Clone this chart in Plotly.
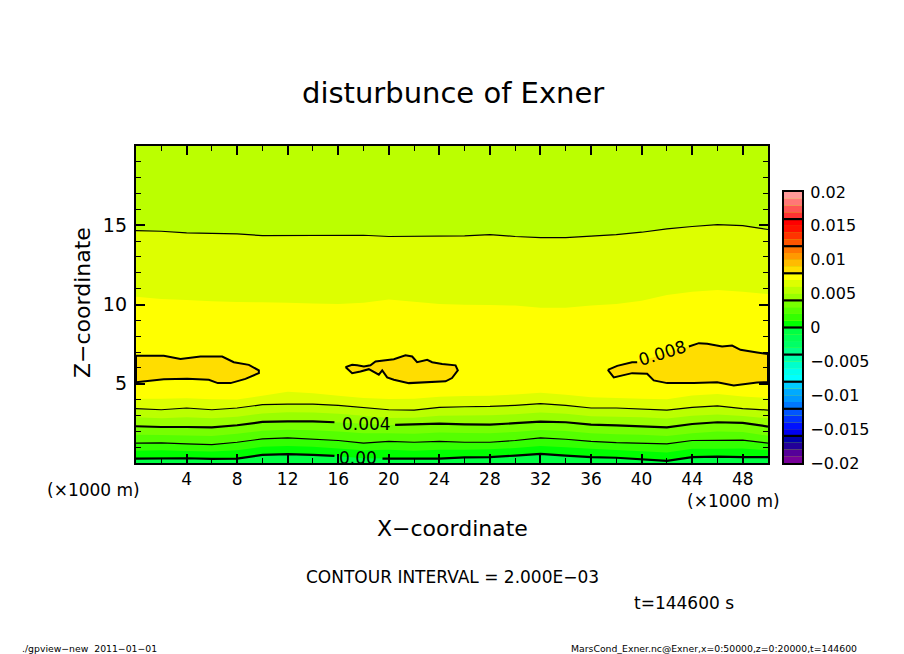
import plotly.graph_objects as go

# ---- data (x in 1000 m, z in 1000 m) ----
x_km = [0, 2, 4, 6, 8, 10, 12, 14, 16, 18, 20, 22, 24, 26, 28, 30, 32, 34, 36, 38, 40, 42, 44, 46, 48, 50]

z_006_upper = [14.66, 14.62, 14.52, 14.48, 14.45, 14.35, 14.35, 14.35, 14.39, 14.37, 14.29, 14.29, 14.33,
               14.33, 14.41, 14.29, 14.22, 14.22, 14.31, 14.41, 14.56, 14.77, 14.92, 15.04, 14.98, 14.73]
z_007_upper = [10.49, 10.35, 10.28, 10.20, 10.16, 10.14, 10.11, 10.07, 10.03, 10.11, 10.32, 10.18, 10.03,
               9.99, 9.97, 9.93, 9.80, 9.80, 9.93, 10.03, 10.24, 10.60, 10.81, 10.91, 10.81, 10.66]
z_007_lower = [4.05, 4.05, 4.08, 4.02, 4.00, 4.25, 4.50, 4.40, 4.24, 4.10, 4.03, 4.05, 4.18, 4.22, 4.25,
               4.32, 4.43, 4.30, 4.15, 4.10, 4.06, 4.02, 4.26, 4.35, 4.20, 4.10]
z_006_lower = [3.43, 3.36, 3.47, 3.36, 3.47, 3.68, 3.72, 3.72, 3.64, 3.51, 3.36, 3.34, 3.51, 3.55, 3.57,
               3.64, 3.74, 3.64, 3.47, 3.47, 3.41, 3.34, 3.51, 3.60, 3.43, 3.34]
z_005 = [2.88, 2.82, 2.88, 2.82, 2.92, 3.12, 3.20, 3.18, 3.10, 2.98, 2.84, 2.85, 2.98, 3.00, 3.02,
         3.08, 3.18, 3.10, 2.95, 2.92, 2.88, 2.80, 2.98, 3.06, 2.96, 2.82]
z_004_fill = [2.32, 2.27, 2.27, 2.25, 2.38, 2.59, 2.63, 2.63, 2.55, 2.48, 2.40, 2.42, 2.48, 2.44, 2.42,
              2.51, 2.61, 2.57, 2.42, 2.38, 2.32, 2.25, 2.46, 2.57, 2.53, 2.30]
x_004_line = [0, 2, 4, 6, 8, 10, 12, 14, 15.7, None, 20.5, 22, 24, 26, 28, 30, 32, 34, 36, 38, 40, 42, 44, 46, 48, 50]
z_004_line = [2.32, 2.27, 2.27, 2.25, 2.38, 2.59, 2.63, 2.63, 2.57, None, 2.40, 2.42, 2.48, 2.44, 2.42,
              2.51, 2.61, 2.57, 2.42, 2.38, 2.32, 2.25, 2.46, 2.57, 2.53, 2.30]
z_003 = [1.78, 1.76, 1.74, 1.70, 1.84, 2.04, 2.10, 2.06, 1.98, 1.88, 1.88, 1.85, 1.92, 1.90, 1.88,
         1.96, 2.08, 2.02, 1.88, 1.82, 1.78, 1.70, 1.88, 1.98, 1.96, 1.72]
z_002 = [1.25, 1.27, 1.21, 1.16, 1.31, 1.52, 1.58, 1.52, 1.42, 1.25, 1.37, 1.31, 1.37, 1.31, 1.31,
         1.42, 1.58, 1.50, 1.37, 1.29, 1.25, 1.21, 1.42, 1.42, 1.44, 1.25]
z_001 = [0.78, 0.80, 0.76, 0.72, 0.80, 1.02, 1.08, 1.02, 0.92, 0.80, 0.84, 0.78, 0.84, 0.84, 0.86,
         0.94, 1.08, 1.00, 0.90, 0.82, 0.74, 0.66, 0.90, 0.90, 0.92, 0.80]
z_000_fill = [0.28, 0.30, 0.30, 0.26, 0.28, 0.51, 0.56, 0.51, 0.43, 0.30, 0.28, 0.24, 0.28, 0.35, 0.37,
              0.47, 0.58, 0.47, 0.37, 0.33, 0.24, 0.14, 0.37, 0.40, 0.37, 0.37]
x_000_line = [0, 2, 4, 6, 8, 10, 12, 14, 15.7, None, 19.5, 20, 22, 24, 26, 28, 30, 32, 34, 36, 38, 40, 42, 44, 46, 48, 50]
z_000_line = [0.28, 0.30, 0.30, 0.26, 0.28, 0.51, 0.56, 0.51, 0.45, None, 0.28, 0.28, 0.24, 0.28, 0.35, 0.37,
              0.47, 0.58, 0.47, 0.37, 0.33, 0.24, 0.14, 0.37, 0.40, 0.37, 0.37]

blob_left_x = [0, 2.2, 3.52, 5.1, 6.82, 7.74, 8.93, 9.72, 9.72, 8.66, 7.48, 6.47, 5.76, 4.05, 2.2, 0.36, 0, 0]
blob_left_z = [6.76, 6.76, 6.57, 6.72, 6.72, 6.36, 6.19, 5.84, 5.67, 5.31, 5.04, 5.04, 5.25, 5.31, 5.29, 5.15, 5.10, 6.76]

blob_mid_x = [16.57, 17.1, 17.5, 18.03, 18.55, 18.95, 20.4, 21.32, 21.85, 22.24, 23.04, 23.43, 24.22, 25.28,
              25.46, 25.0, 24.49, 22.9, 22.24, 21.59, 20.4, 19.87, 19.48, 19.21, 18.42, 17.76, 17.1, 16.57]
blob_mid_z = [6.05, 6.2, 6.16, 6.09, 6.16, 6.4, 6.55, 6.8, 6.72, 6.36, 6.51, 6.36, 6.24, 6.16,
              5.84, 5.36, 5.15, 5.08, 5.04, 5.04, 5.25, 5.4, 5.84, 5.57, 5.92, 5.77, 5.67, 6.05]

blob_right_x = [37.33, 38.07, 39.25, 39.65, 43.74, 44.53, 45.19, 46.37, 47.16, 47.82, 49.14, 50, 50, 49.14,
                47.29, 45.98, 44.13, 42.02, 40.96, 40.44, 39.25, 37.8, 37.33]
blob_right_z = [5.88, 6.13, 6.36, 6.36, 7.35, 7.56, 7.52, 7.35, 7.41, 7.14, 6.97, 6.87, 5.10, 5.08,
                4.89, 5.10, 5.04, 5.04, 5.21, 5.63, 5.67, 5.40, 5.88]

bar_levels = [-0.020, -0.019, -0.018, -0.017, -0.016, -0.015, -0.014, -0.013, -0.012, -0.011, -0.010, -0.009,
              -0.008, -0.007, -0.006, -0.005, -0.004, -0.003, -0.002, -0.001, 0.000, 0.001, 0.002, 0.003,
              0.004, 0.005, 0.006, 0.007, 0.008, 0.009, 0.010, 0.011, 0.012, 0.013, 0.014, 0.015,
              0.016, 0.017, 0.018, 0.019]
bar_colors = ["#770099", "#550099", "#220099", "#0000AA", "#0000EE", "#0011FF", "#0033FF", "#0055FF",
              "#0077FF", "#0099FF", "#00AAFF", "#00CCFF", "#00FFFF", "#00FFEE", "#00FFCC", "#00FFAA",
              "#00FF88", "#00FF66", "#00FF55", "#00FF44", "#00FF00", "#33FF00", "#55FF00", "#77FF00",
              "#99FF00", "#BBFF00", "#DDFF00", "#FFFF00", "#FFDD00", "#FFBB00", "#FF9900", "#FF7700",
              "#FF5500", "#FF3300", "#FF1100", "#FF0000", "#FF3333", "#FF5555", "#FF7777", "#FF9999"]
bar_sep = [-0.016, -0.012, -0.008, -0.004, 0.0, 0.004, 0.008, 0.012, 0.016]
bar_tickvals = [0.02, 0.015, 0.01, 0.005, 0, -0.005, -0.01, -0.015, -0.02]
bar_ticktext = ["0.02", "0.015", "0.01", "0.005", "0", "\u22120.005", "\u22120.01", "\u22120.015", "\u22120.02"]
x_ticks = [4, 8, 12, 16, 20, 24, 28, 32, 36, 40, 44, 48]
z_ticks = [5, 10, 15]

W, H = 904, 654
L, R, T, B = 136, 768, 146, 463
CL, CR, CT, CB = 784, 802, 192, 463
FONT = "DejaVu Sans"
GOLD = "#FFDD00"

fig = go.Figure()

def band(z, color):
    fig.add_trace(go.Scatter(x=x_km, y=z, mode="none", fill="tozeroy", fillcolor=color, showlegend=False))

def blob(xs, zs):
    fig.add_trace(go.Scatter(x=xs, y=zs, mode="none", fill="toself", fillcolor=GOLD, showlegend=False))

def line(xs, zs, width):
    fig.add_trace(go.Scatter(x=xs, y=zs, mode="lines", line=dict(color="black", width=width),
                             connectgaps=False, showlegend=False))

band(z_006_upper, "#DDFF00")
band(z_007_upper, "#FFFF00")
band(z_007_lower, "#DDFF00")
band(z_006_lower, "#BBFF00")
band(z_005, "#99FF00")
band(z_004_fill, "#77FF00")
band(z_003, "#55FF00")
band(z_002, "#33FF00")
band(z_001, "#00FF00")
band(z_000_fill, "#00FF44")
blob(blob_left_x, blob_left_z)
blob(blob_mid_x, blob_mid_z)
blob(blob_right_x, blob_right_z)

line(x_km, z_006_upper, 1.2)
line(x_km, z_006_lower, 1.2)
line(x_004_line, z_004_line, 2.2)
line(x_km, z_002, 1.2)
line(x_000_line, z_000_line, 2.2)
line(blob_left_x, blob_left_z, 2)
line(blob_mid_x, blob_mid_z, 2)
line(blob_right_x[:4], blob_right_z[:4], 2)
line(blob_right_x[4:], blob_right_z[4:], 2)

# colour bar
fig.add_trace(go.Bar(x=[0] * len(bar_levels), y=[0.001] * len(bar_levels), base=bar_levels, width=1,
                     marker=dict(color=bar_colors, line=dict(width=0)), xaxis="x2", yaxis="y2", showlegend=False))
for s in bar_sep:
    fig.add_trace(go.Scatter(x=[-0.5, 0.5], y=[s, s], mode="lines", line=dict(color="black", width=2.2),
                             xaxis="x2", yaxis="y2", showlegend=False))

def tx(px):
    return px / W

def ty(py):
    return 1 - py / H

def note(text, px, py, size, anchor="center", angle=0):
    fig.add_annotation(text=text, x=tx(px), y=ty(py), xref="paper", yref="paper", showarrow=False,
                       xanchor=anchor, yanchor="middle", textangle=angle, font=dict(size=size, color="black"))

def dnote(text, x, z, size, angle=0):
    fig.add_annotation(text=text, x=x, y=z, xref="x", yref="y", showarrow=False, textangle=angle,
                       font=dict(size=size, color="black"))

note("disturbunce of Exner", 453, 93, 29)
note("X\u2212coordinate", 452, 528, 22)
note("Z\u2212coordinate", 82, 303, 22, angle=-90)
note("(\u00d71000 m)", 45, 490, 17, "left")
note("(\u00d71000 m)", 685, 501, 17, "left")
note("CONTOUR INTERVAL = 2.000E\u221203", 452, 577, 17)
note("t=144600 s", 632, 603, 17, "left")
note("./gpview\u2212new  2011\u221201\u221201", 20, 648, 9.3, "left")
note("MarsCond_Exner.nc@Exner,x=0:50000,z=0:20000,t=144600", 859, 648, 9.3, "right")
dnote("0.004", 18.2, 2.47, 17)
dnote("0.00", 17.6, 0.32, 17)
dnote("0.008", 41.66, 6.94, 17, angle=-17)

axis_common = dict(showgrid=False, zeroline=False, showline=True, linecolor="black", linewidth=2.4,
                   mirror="allticks", ticks="inside", tickcolor="black", layer="above traces", automargin=False)
fig.update_layout(
    width=W, height=H, autosize=False,
    margin=dict(l=0, r=0, t=0, b=0, pad=0),
    paper_bgcolor="white", plot_bgcolor="#BBFF00",
    font=dict(family=FONT, color="black"),
    showlegend=False,
    xaxis=dict(domain=[L / W, R / W], range=[0, 50], tickmode="array", tickvals=x_ticks,
               ticklen=9, tickwidth=2, tickfont=dict(size=17), ticklabelstandoff=-1,
               minor=dict(tickmode="array", tickvals=[v for v in range(2, 50, 4)], ticks="inside",
                          ticklen=5, tickwidth=1, tickcolor="black"),
               **axis_common),
    yaxis=dict(domain=[1 - B / H, 1 - T / H], range=[0, 20], tickmode="array", tickvals=z_ticks,
               ticklen=9, tickwidth=2, tickfont=dict(size=19), ticklabelstandoff=3,
               minor=dict(tickmode="array", tickvals=[v for v in range(1, 20) if v % 5], ticks="inside",
                          ticklen=5, tickwidth=1, tickcolor="black"),
               **axis_common),
    xaxis2=dict(domain=[CL / W, CR / W], anchor="y2", range=[-0.5, 0.5], showticklabels=False, ticks="",
                showgrid=False, zeroline=False, showline=True, linecolor="black", linewidth=2.2, mirror=True,
                layer="above traces", automargin=False),
    yaxis2=dict(domain=[1 - CB / H, 1 - CT / H], anchor="x2", side="right", range=[-0.02, 0.02],
                tickmode="array", tickvals=bar_tickvals, ticktext=bar_ticktext, ticks="", tickfont=dict(size=16),
                showgrid=False, zeroline=False, showline=True, linecolor="black", linewidth=2.2, mirror=True,
                ticklabelstandoff=3, layer="above traces", automargin=False),
)

fig.write_html("out.html", config=dict(displayModeBar=False),
               post_script="document.body.style.margin='0';document.body.style.overflow='hidden';")
